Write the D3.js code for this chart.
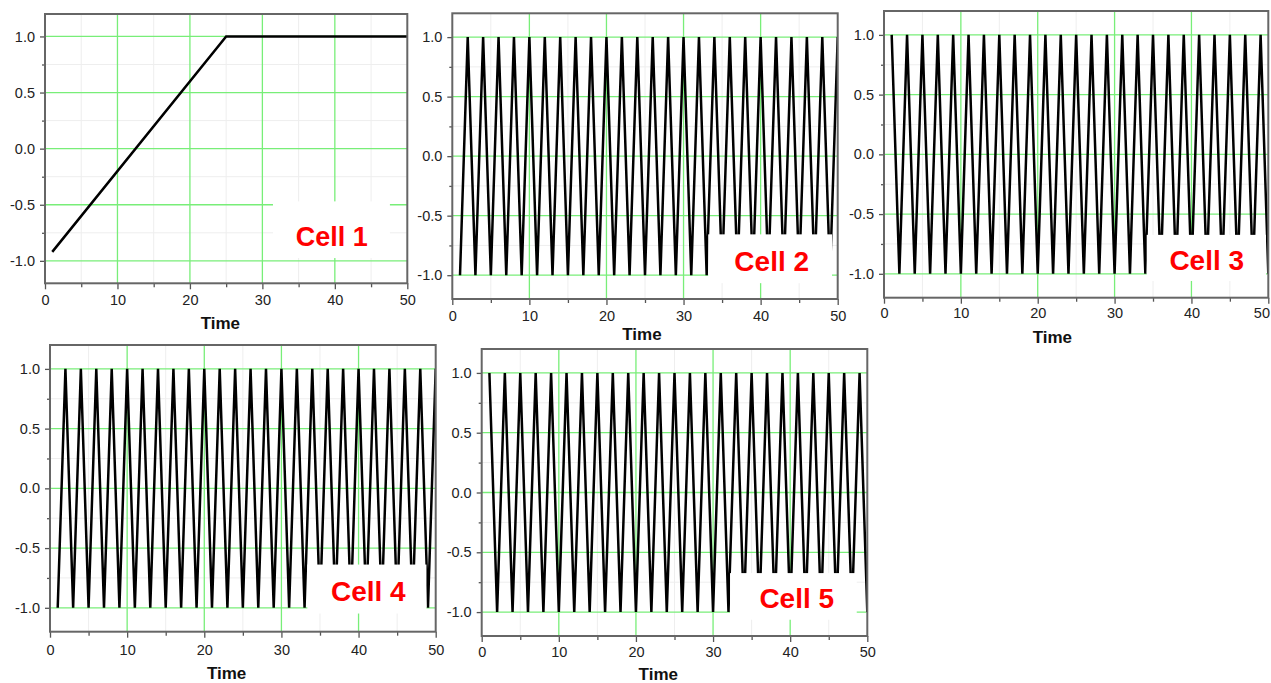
<!DOCTYPE html>
<html>
<head>
<meta charset="utf-8">
<script src="https://cdn.jsdelivr.net/npm/d3@7"></script>
<style>
body { margin: 0; background: #fff; }
svg { display: block; font-family: "Liberation Sans", Arial, Helvetica, sans-serif; }
.tick text { font-size: 14.5px; fill: #222; }
</style>
</head>
<body>
<svg id="chart" width="1271" height="683"></svg>
<script>
// data
var timeSteps = [1,2,3,4,5,6,7,8,9,10,11,12,13,14,15,16,17,18,19,20,21,22,23,24,25,
                 26,27,28,29,30,31,32,33,34,35,36,37,38,39,40,41,42,43,44,45,46,47,48,49,50];
var cell1Time = [1, 25, 50];
var cell1Value = [-0.92, 1.0, 1.0];
var cell2Value = [-1,1,-1,1,-1,1,-1,1,-1,1,-1,1,-1,1,-1,1,-1,1,-1,1,-1,1,-1,1,-1,
                  1,-1,1,-1,1,-1,1,-1,1,-1,1,-1,1,-1,1,-1,1,-1,1,-1,1,-1,1,-1,1];
var cell3Value = [1,-1,1,-1,1,-1,1,-1,1,-1,1,-1,1,-1,1,-1,1,-1,1,-1,1,-1,1,-1,1,
                  -1,1,-1,1,-1,1,-1,1,-1,1,-1,1,-1,1,-1,1,-1,1,-1,1,-1,1,-1,1,-1];
var cell4Value = [-1,1,-1,1,-1,1,-1,1,-1,1,-1,1,-1,1,-1,1,-1,1,-1,1,-1,1,-1,1,-1,
                  1,-1,1,-1,1,-1,1,-1,1,-1,1,-1,1,-1,1,-1,1,-1,1,-1,1,-1,1,-1,1];
var cell5Value = [1,-1,1,-1,1,-1,1,-1,1,-1,1,-1,1,-1,1,-1,1,-1,1,-1,1,-1,1,-1,1,
                  -1,1,-1,1,-1,1,-1,1,-1,1,-1,1,-1,1,-1,1,-1,1,-1,1,-1,1,-1,1,-1];
var cellNames = ["Cell 1", "Cell 2", "Cell 3", "Cell 4", "Cell 5"];
var xTickValues = [0, 10, 20, 30, 40, 50];
var xMinorTicks = [5, 15, 25, 35, 45];
var yTickValues = [-1, -0.5, 0, 0.5, 1];
var yMinorTicks = [-0.75, -0.25, 0.25, 0.75];
var axisTitle = "Time";

var series = [
    {time: cell1Time, value: cell1Value},
    {time: timeSteps, value: cell2Value},
    {time: timeSteps, value: cell3Value},
    {time: timeSteps, value: cell4Value},
    {time: timeSteps, value: cell5Value}
];

// layout of each small plot (pixels) and its label box (data units)
var panels = [
    {left: 45, top: 14, right: 407.3, bottom: 283.3, xPad: 5.6, titleDy: 39.4, titleX: 24.2,
     box: [31.46, 47.6, -0.47, -0.975], label: [39.57, -0.777], fs: 27},
    {left: 452.3, top: 13.3, right: 837.7, bottom: 299, xPad: 5.9, titleDy: 35.3, titleX: 24.6,
     box: [33.2, 49.26, -0.657, -1.067], label: [41.44, -0.88], fs: 28},
    {left: 884, top: 11, right: 1268.3, bottom: 297.7, xPad: 4.5, titleDy: 39, titleX: 21.9,
     box: [34.18, 49.7, -0.674, -1.06], label: [41.99, -0.883], fs: 28},
    {left: 50, top: 345, right: 435.7, bottom: 631.7, xPad: 7.2, titleDy: 41.3, titleX: 22.9,
     box: [33.36, 48.8, -0.638, -1.048], label: [41.26, -0.861], fs: 28},
    {left: 481.7, top: 349, right: 867.3, bottom: 636, xPad: 4.6, titleDy: 38, titleX: 22.9,
     box: [32.2, 48.63, -0.674, -1.064], label: [40.85, -0.883], fs: 28}
];

var svg = d3.select("#chart");
var svgWidth = +svg.attr("width");

panels.forEach(function (p, i) {
    var x = d3.scaleLinear().domain([0, 50]).range([p.left, p.right]);
    var y = d3.scaleLinear().domain([-1.2, 1.2]).range([p.bottom, p.top]);
    var g = svg.append("g").attr("class", "panel" + (i + 1));

    // faint minor grid
    g.selectAll(".vminor").data(xMinorTicks).enter().append("line")
        .attr("x1", function (d) { return x(d); }).attr("x2", function (d) { return x(d); })
        .attr("y1", p.top).attr("y2", p.bottom)
        .attr("stroke", "#eeeeee").attr("stroke-width", 1);
    g.selectAll(".hminor").data(yMinorTicks).enter().append("line")
        .attr("x1", p.left).attr("x2", p.right)
        .attr("y1", function (d) { return y(d); }).attr("y2", function (d) { return y(d); })
        .attr("stroke", "#eeeeee").attr("stroke-width", 1);

    // green major grid
    g.selectAll(".vgrid").data(xTickValues.slice(1, -1)).enter().append("line")
        .attr("x1", function (d) { return x(d); }).attr("x2", function (d) { return x(d); })
        .attr("y1", p.top).attr("y2", p.bottom)
        .attr("stroke", "#78ee78").attr("stroke-width", 1.3);
    g.selectAll(".hgrid").data(yTickValues).enter().append("line")
        .attr("x1", p.left).attr("x2", p.right)
        .attr("y1", function (d) { return y(d); }).attr("y2", function (d) { return y(d); })
        .attr("stroke", "#78ee78").attr("stroke-width", 1.3);

    // the trace, clipped to the plot area
    svg.append("clipPath").attr("id", "clip" + i).append("rect")
        .attr("x", p.left).attr("y", p.top)
        .attr("width", p.right - p.left).attr("height", p.bottom - p.top);

    var s = series[i];
    var pts = s.time.map(function (t, k) { return [t, s.value[k]]; });
    var line = d3.line().x(function (d) { return x(d[0]); }).y(function (d) { return y(d[1]); });
    g.append("path").datum(pts)
        .attr("clip-path", "url(#clip" + i + ")")
        .attr("d", line)
        .attr("fill", "none")
        .attr("stroke", "#000")
        .attr("stroke-width", 2.5);

    // white label box over the plot
    g.append("rect")
        .attr("x", x(p.box[0])).attr("y", y(p.box[2]))
        .attr("width", x(p.box[1]) - x(p.box[0]))
        .attr("height", y(p.box[3]) - y(p.box[2]))
        .attr("fill", "#fff");
    g.append("text")
        .attr("x", x(p.label[0])).attr("y", y(p.label[1]))
        .attr("dy", "0.36em")
        .attr("text-anchor", "middle")
        .attr("font-size", p.fs + "px")
        .attr("font-weight", "bold")
        .attr("fill", "#ff0000")
        .text(cellNames[i]);

    // axes
    var xAxis = g.append("g").attr("transform", "translate(0," + p.bottom + ")")
        .call(d3.axisBottom(x).tickValues(xTickValues).tickSize(6).tickPadding(p.xPad)
            .tickFormat(d3.format("d")));
    var xMinor = g.append("g").attr("transform", "translate(0," + p.bottom + ")")
        .call(d3.axisBottom(x).tickValues(xMinorTicks).tickSize(4).tickFormat(""));
    var yAxis = g.append("g").attr("transform", "translate(" + p.left + ",0)")
        .call(d3.axisLeft(y).tickValues(yTickValues).tickSize(5).tickPadding(5)
            .tickFormat(function (d) { return d.toFixed(1); }));
    var yMinor = g.append("g").attr("transform", "translate(" + p.left + ",0)")
        .call(d3.axisLeft(y).tickValues(yMinorTicks).tickSize(3).tickFormat(""));

    [xAxis, xMinor, yAxis, yMinor].forEach(function (a) {
        a.select(".domain").remove();
        a.selectAll(".tick line").attr("stroke", "#555").attr("stroke-width", 1.3);
        a.selectAll("text").attr("font-family", null).attr("font-size", null);
    });

    // keep tick labels inside the page
    xAxis.selectAll(".tick text").each(function () {
        var b = this.getBoundingClientRect();
        if (b.right > svgWidth - 1) d3.select(this).attr("dx", -(b.right - svgWidth + 1));
    });

    // frame
    g.append("rect")
        .attr("x", p.left).attr("y", p.top)
        .attr("width", p.right - p.left).attr("height", p.bottom - p.top)
        .attr("fill", "none")
        .attr("stroke", "#666")
        .attr("stroke-width", 2);

    g.append("text")
        .attr("x", x(p.titleX)).attr("y", p.bottom + p.titleDy)
        .attr("dy", "0.36em")
        .attr("text-anchor", "middle")
        .attr("font-size", "17px")
        .attr("font-weight", "bold")
        .attr("fill", "#111")
        .text(axisTitle);
});
</script>
</body>
</html>
